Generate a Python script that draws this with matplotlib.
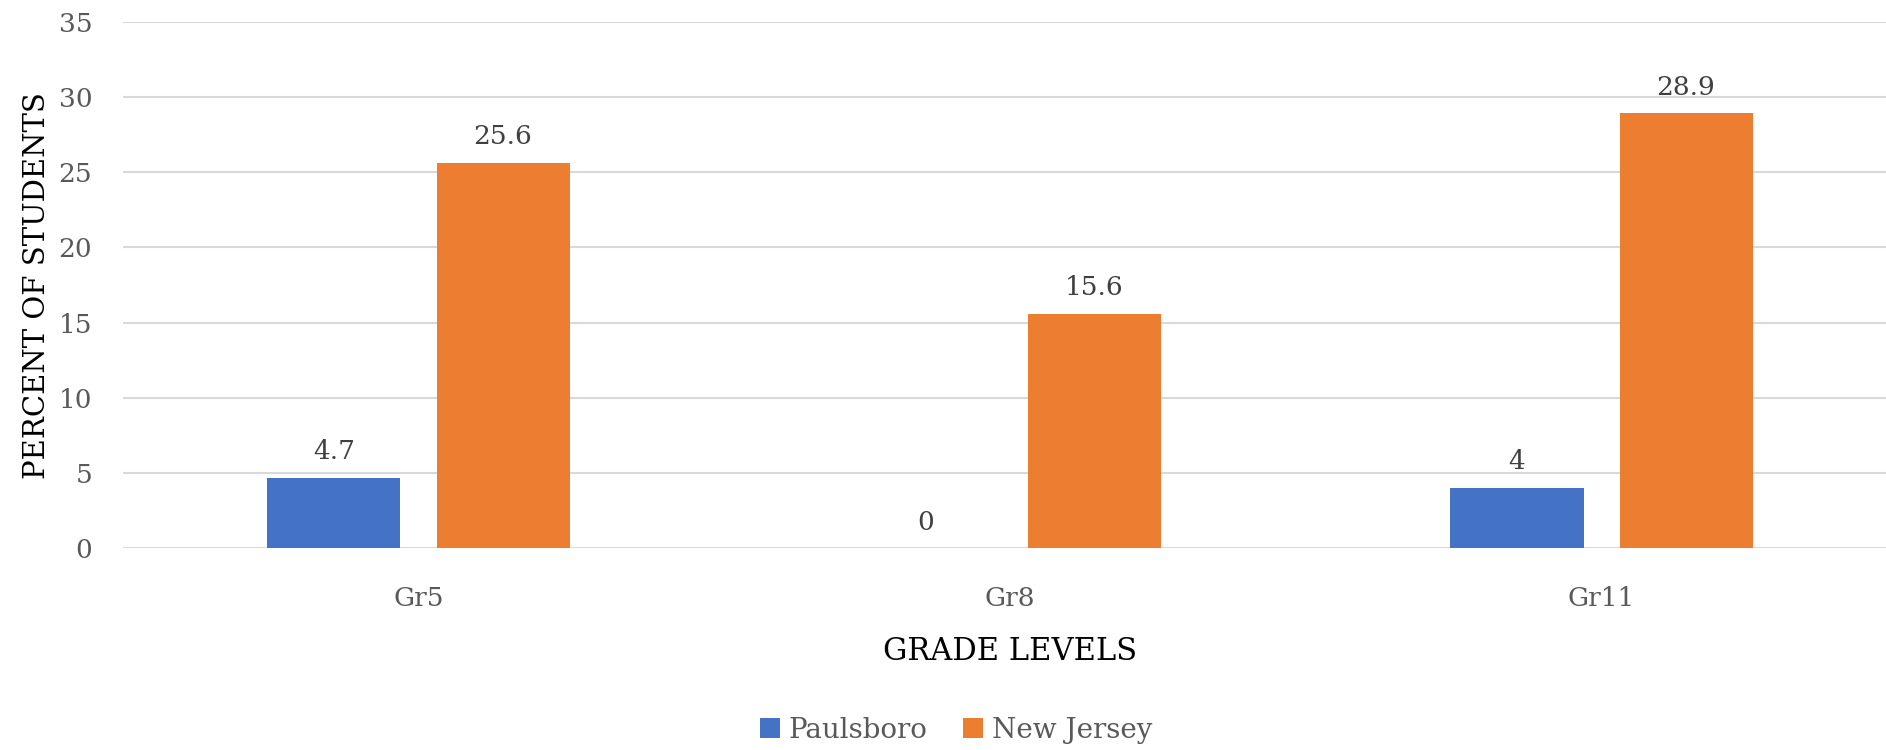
import matplotlib.pyplot as plt
import numpy as np

grades = ['Gr5', 'Gr8', 'Gr11']
paulsboro = [4.7, 0, 4]
new_jersey = [25.6, 15.6, 28.9]
yticks = [0, 5, 10, 15, 20, 25, 30, 35]

plt.rcParams['font.family'] = ['DejaVu Serif']

fig = plt.figure(figsize=(18.86, 7.5), dpi=100)
ax = fig.add_axes([0.06508, 0.2687, 0.9409, 0.7024])

x = np.arange(len(grades))
w = 0.2249
off = 0.1429

b1 = ax.bar(x - off, paulsboro, w, color='#4472C4', label='Paulsboro', zorder=3)
b2 = ax.bar(x + off, new_jersey, w, color='#ED7D31', label='New Jersey', zorder=3)

for bars in (b1, b2):
    ax.bar_label(bars, labels=[f'{v:g}' for v in bars.datavalues],
                 padding=10, fontsize=19, color='#404040')

ax.set_xlim(-0.5, 2.5)
ax.set_ylim(0, 35)
ax.set_yticks(yticks)
ax.set_xticks(x)
ax.set_xticklabels(grades)
ax.tick_params(axis='both', length=0, labelsize=19, labelcolor='#595959')
ax.tick_params(axis='y', pad=22)
ax.tick_params(axis='x', pad=27)

ax.grid(axis='y', color='#D9D9D9', linewidth=1.5, zorder=0)
for s in ax.spines.values():
    s.set_visible(False)

ax.set_ylabel('PERCENT OF STUDENTS', fontsize=21, color='black')
ax.yaxis.set_label_coords(-0.0404, 0.5)
ax.set_xlabel('GRADE LEVELS', fontsize=22, color='black')
ax.xaxis.set_label_coords(0.5, -0.166)

fig.legend(loc='center', bbox_to_anchor=(956 / 1886, 20 / 750), ncol=2,
           frameon=False, fontsize=20, labelcolor='#595959',
           handlelength=0.72, handleheight=0.72, handletextpad=0.3,
           columnspacing=1.3)

plt.savefig('out.png', dpi=100)
